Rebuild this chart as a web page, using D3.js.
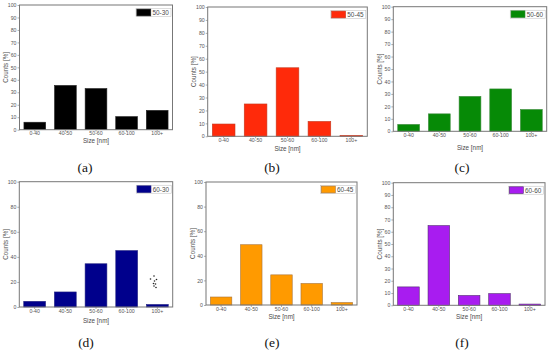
<!DOCTYPE html>
<html>
<head>
<meta charset="utf-8">
<script src="https://cdn.jsdelivr.net/npm/d3@7"></script>
<style>
html, body { margin: 0; padding: 0; background: #fff; }
svg { display: block; }
text { font-family: "Liberation Sans", Arial, sans-serif; fill: #4a4a4a; }
</style>
</head>
<body>
<svg id="viz" width="550" height="353"></svg>
<script>
const categories = ["0-40", "40-50", "50-60", "60-100", "100+"];

const names = ["50-30", "50-45", "50-60", "60-30", "60-45", "60-60"];
const captions = ["(a)", "(b)", "(c)", "(d)", "(e)", "(f)"];
const colors = ["#000000", "#ff2a0a", "#068a06", "#00008c", "#ff9a00", "#a81cf0"];
const strokes = ["#222222", "#c43a20", "#3a8a3a", "#202080", "#a8743a", "#502a70"];

const values5030 = [6, 35.5, 33, 10.5, 15.5];
const values5045 = [9.5, 25, 53, 11.5, 0.7];
const values5060 = [5.5, 14, 28, 34, 17.5];
const values6030 = [4.5, 12, 34.5, 45, 2];
const values6045 = [6.5, 49, 24.5, 17.5, 2];
const values6060 = [15, 65, 8, 9.5, 1];
const series = [values5030, values5045, values5060, values6030, values6045, values6060];

const tickSteps = [10, 10, 10, 20, 20, 10];

// plot box of every panel, measured on the picture
const boxes = [
    {left: 19.5, right: 172.5, top: 5, bottom: 129.7, xLabel: 142.5, cap: 85, capY: 172},
    {left: 207.7, right: 367.3, top: 7, bottom: 136.3, xLabel: 150.5, cap: 272, capY: 172},
    {left: 393.3, right: 546.7, top: 6.7, bottom: 131.3, xLabel: 149.5, cap: 462, capY: 172},
    {left: 19.3, right: 172.7, top: 181.7, bottom: 307, xLabel: 322.5, cap: 86, capY: 347},
    {left: 206, right: 357, top: 182, bottom: 305, xLabel: 318.5, cap: 272, capY: 347},
    {left: 393.3, right: 545, top: 182.7, bottom: 305.3, xLabel: 319, cap: 462, capY: 347}
];

let viz = d3.select("#viz");

series.forEach((vals, i) => {
    let box = boxes[i];
    let g = viz.append("g").attr("class", "panel");

    let x = d3.scaleBand().domain(categories).range([box.left, box.right]).paddingInner(0.29).paddingOuter(0.145);
    let y = d3.scaleLinear().domain([0, 100]).range([box.bottom, box.top]);

    g.selectAll("rect.bar")
        .data(vals)
        .enter().append("rect")
        .attr("class", "bar")
        .attr("x", (d, k) => x(categories[k]))
        .attr("y", d => y(d))
        .attr("width", x.bandwidth())
        .attr("height", d => y(0) - y(d))
        .style("fill", colors[i])
        .style("stroke", strokes[i])
        .style("stroke-width", 0.6);

    g.append("rect")
        .attr("x", box.left)
        .attr("y", box.top)
        .attr("width", box.right - box.left)
        .attr("height", box.bottom - box.top)
        .style("fill", "none")
        .style("stroke", "#777")
        .style("stroke-width", 1);

    let yAxis = d3.axisLeft(y).tickValues(d3.range(0, 101, tickSteps[i])).tickSize(2).tickPadding(1);
    let xAxis = d3.axisBottom(x).tickSize(2).tickPadding(0);

    let ya = g.append("g").attr("transform", `translate(${box.left},0)`).call(yAxis);
    let xa = g.append("g").attr("transform", `translate(0,${box.bottom})`).call(xAxis);
    for (let a of [ya, xa]) {
        a.select(".domain").remove();
        a.selectAll("line").style("stroke", "#777").style("stroke-width", 0.6);
        a.selectAll("text").style("font-family", '"Liberation Sans", Arial, sans-serif').style("font-size", "5.2px").style("fill", "#555");
    }

    g.append("text")
        .attr("x", (box.left + box.right) / 2)
        .attr("y", box.xLabel)
        .attr("text-anchor", "middle")
        .style("font-size", "6.3px")
        .text("Size [nm]");

    g.append("text")
        .attr("transform", `translate(${box.left - 11.5},${(box.top + box.bottom) / 2}) rotate(-90)`)
        .attr("text-anchor", "middle")
        .style("font-size", "6.3px")
        .text("Counts [%]");

    // legend, top right corner of the box
    let lw = 35, lh = 8;
    let lx = box.right - lw - 1.5, ly = box.top + 3.5;
    g.append("rect")
        .attr("x", lx).attr("y", ly).attr("width", lw).attr("height", lh)
        .style("fill", "#fff").style("stroke", "#bbb").style("stroke-width", 0.5);
    g.append("rect")
        .attr("x", lx + 0.8).attr("y", ly + 0.6).attr("width", 14).attr("height", lh - 1.2)
        .style("fill", colors[i]).style("stroke", strokes[i]).style("stroke-width", 0.6);
    g.append("text")
        .attr("x", lx + 16.5).attr("y", ly + lh - 1.7)
        .style("font-size", "6.4px")
        .text(names[i]);

    g.append("text")
        .attr("x", box.cap).attr("y", box.capY)
        .attr("text-anchor", "middle")
        .style("font-family", '"Liberation Serif", serif')
        .style("font-size", "13.5px")
        .style("fill", "#111")
        .text(captions[i]);
});

// stray little mark above the last bar in (d)
const strayDots = [[0, 0], [-3.5, 3], [2.5, 3.5], [0.5, 5], [-0.5, 7.5], [1.5, 8], [0, 10], [2, 11.5]];
viz.append("g").selectAll("circle")
    .data(strayDots)
    .enter().append("circle")
    .attr("cx", d => 154 + d[0])
    .attr("cy", d => 276 + d[1])
    .attr("r", 0.8)
    .style("fill", "#222");
</script>
</body>
</html>
